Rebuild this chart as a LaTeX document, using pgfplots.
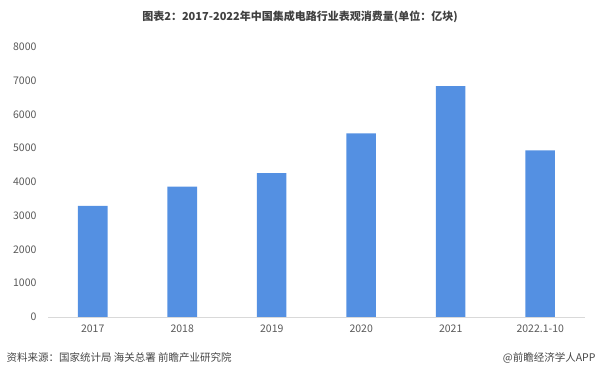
\documentclass[border=0pt]{standalone}
\usepackage{pgfplots}
\pgfplotsset{compat=1.18}
\usepackage{fontspec}
\setmainfont{Noto Sans CJK SC}
\definecolor{barblue}{RGB}{84,144,226}
\definecolor{ticktxt}{RGB}{89,89,89}
\definecolor{axisgray}{RGB}{217,217,217}
\definecolor{foottxt}{RGB}{70,70,70}
\begin{document}
\begin{tikzpicture}[x=1pt,y=1pt]
\path[use as bounding box] (0pt,0pt) rectangle (600pt,375pt);
\begin{axis}[
  at={(48pt,58pt)}, anchor=south west,
  scale only axis, width=537pt, height=270pt,
  xmin=-0.5, xmax=5.5, ymin=0, ymax=8000,
  xtick={0,1,2,3,4,5},
  xticklabels={2017,2018,2019,2020,2021,2022.1-10},
  ytick={0,1000,...,8000},
  axis y line=none,
  axis x line*=bottom,
  x axis line style={draw=axisgray, line width=0.8pt, -},
  major tick length=0pt,
  tick style={draw=none},
  ticklabel style={font=\fontsize{10.5}{12}\selectfont, text=ticktxt},
  xticklabel style={yshift=-4pt},
  /pgf/number format/assume math mode=true,
  /pgf/number format/1000 sep={},
  clip=false,
]
\addplot[ybar, bar width=29.5pt, fill=barblue, draw=none] coordinates {
  (0,3290) (1,3860) (2,4260) (3,5440) (4,6840) (5,4940)
};
\end{axis}
\foreach \v/\yy in {0/58,1000/91.75,2000/125.5,3000/159.25,4000/193,5000/226.75,6000/260.5,7000/294.25,8000/328}{
  \node[anchor=east, text=ticktxt, font=\fontsize{10.5}{12}\selectfont] at (40pt,\yy pt) {\v};
}
\node[font=\fontsize{11}{13}\selectfont\bfseries, text={rgb,255:red,64;green,64;blue,64}] at (300pt,358pt) {图表2：2017-2022年中国集成电路行业表观消费量(单位：亿块)};
\node[anchor=west, font=\fontsize{10.5}{12}\selectfont, text=foottxt] at (3pt,17pt) {资料来源：国家统计局 海关总署 前瞻产业研究院};
\node[anchor=east, font=\fontsize{10.5}{12}\selectfont, text=foottxt] at (599pt,17pt) {@前瞻经济学人APP};
\end{tikzpicture}
\end{document}
